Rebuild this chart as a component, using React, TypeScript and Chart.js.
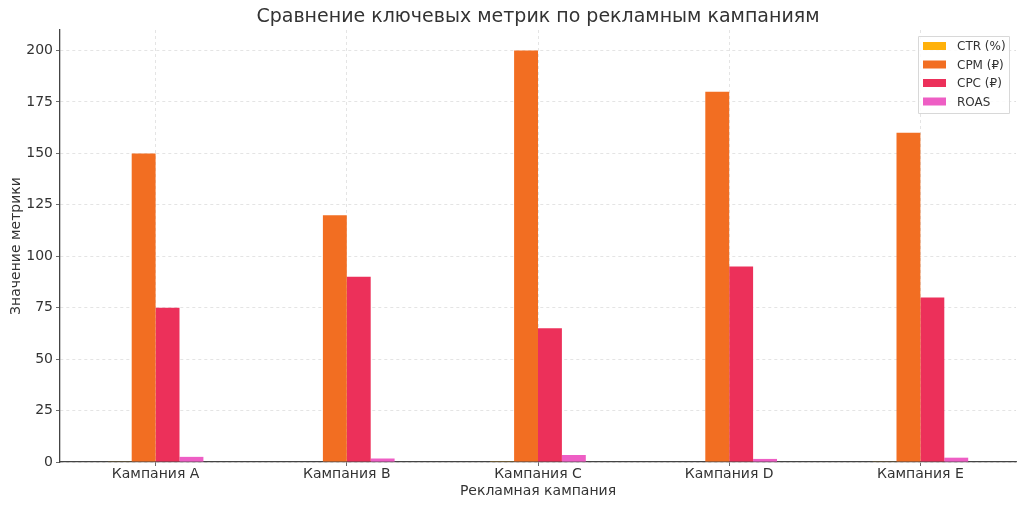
import React, { useEffect, useRef } from 'react';
import { Chart, registerables } from 'chart.js';

Chart.register(...registerables);

const campaigns = ['Кампания A', 'Кампания B', 'Кампания C', 'Кампания D', 'Кампания E'];
const ctrValues = [0.25, 0.2, 0.3, 0.2, 0.25];
const cpmValues = [150, 120, 200, 180, 160];
const cpcValues = [75, 90, 65, 95, 80];
const roasValues = [2.5, 1.7, 3.4, 1.5, 2.1];
const yTicks = [0, 25, 50, 75, 100, 125, 150, 175, 200];

const seriesLabels = ['CTR (%)', 'CPM (₽)', 'CPC (₽)', 'ROAS'];
const seriesColors = ['#FFB10A', '#F26E22', '#EC305A', '#EE5EC4'];

const FONT = '"DejaVu Sans", sans-serif';
const TEXT = '#333333';

// title + legend drawn by hand, matplotlib style
const decorations = {
  id: 'decorations',
  afterDraw(chart: any) {
    const { ctx, chartArea } = chart;
    ctx.save();
    ctx.fillStyle = TEXT;
    ctx.font = `19px ${FONT}`;
    ctx.textAlign = 'center';
    ctx.textBaseline = 'middle';
    ctx.fillText('Сравнение ключевых метрик по рекламным кампаниям', (chartArea.left + chartArea.right) / 2, 17);

    const bx = 918, by = 36, bw = 91, bh = 77;
    ctx.fillStyle = 'rgba(255,255,255,0.85)';
    ctx.strokeStyle = '#d8d8d8';
    ctx.lineWidth = 1;
    ctx.beginPath();
    ctx.rect(bx + 0.5, by + 0.5, bw, bh);
    ctx.fill();
    ctx.stroke();
    ctx.font = `12px ${FONT}`;
    ctx.textAlign = 'left';
    chart.data.datasets.forEach((ds: any, i: number) => {
      const y = by + 10 + i * 18.5;
      ctx.fillStyle = ds.backgroundColor;
      ctx.fillRect(bx + 5, y - 4, 23, 8);
      ctx.fillStyle = TEXT;
      ctx.fillText(ds.label, bx + 39, y + 1);
    });
    ctx.restore();
  },
};

export default function App() {
  const canvasRef = useRef<HTMLCanvasElement>(null);

  useEffect(() => {
    if (!canvasRef.current) return;
    const values = [ctrValues, cpmValues, cpcValues, roasValues];
    const chart = new Chart(canvasRef.current, {
      type: 'bar',
      data: {
        labels: campaigns,
        datasets: seriesLabels.map((label, i) => ({
          label,
          data: values[i],
          backgroundColor: seriesColors[i],
          borderWidth: 0,
          barPercentage: 1,
          categoryPercentage: 0.5,
        })),
      },
      options: {
        animation: false,
        responsive: false,
        devicePixelRatio: 1,
        layout: { padding: { top: 30, right: 8, left: 0, bottom: 0 } },
        plugins: {
          legend: { display: false },
          title: { display: false },
          tooltip: { enabled: false },
        },
        scales: {
          x: {
            afterFit: (scale: any) => { scale.height = 46; },
            grid: {
              offset: false,
              color: '#dddddd',
              lineWidth: 0.8,
              tickLength: 4,
              tickColor: '#444444',
              tickBorderDash: [],
            },
            border: { color: '#444444', width: 1.3, dash: [3, 3] },
            ticks: { color: TEXT, font: { family: FONT, size: 14 }, padding: 0, maxRotation: 0 },
            title: {
              display: true,
              text: 'Рекламная кампания',
              color: TEXT,
              font: { family: FONT, size: 14 },
              padding: { top: 0, bottom: 8 },
            },
          },
          y: {
            min: 0,
            max: 210,
            afterFit: (scale: any) => { scale.width = 60; },
            afterBuildTicks: (scale: any) => { scale.ticks = yTicks.map((v) => ({ value: v })); },
            grid: {
              color: '#dddddd',
              lineWidth: 0.8,
              tickLength: 4,
              tickColor: '#444444',
              tickBorderDash: [],
            },
            border: { color: '#444444', width: 1.3, dash: [3, 3] },
            ticks: { color: TEXT, font: { family: FONT, size: 14 }, padding: 3 },
            title: {
              display: true,
              text: 'Значение метрики',
              color: TEXT,
              font: { family: FONT, size: 14 },
              padding: { top: 8, bottom: 0 },
            },
          },
        },
      },
      plugins: [decorations],
    });
    return () => chart.destroy();
  }, []);

  return (
    <div style={{ position: 'fixed', left: 0, top: 0, width: 1024, height: 508, background: '#fff' }}>
      <canvas ref={canvasRef} width={1024} height={508} />
    </div>
  );
}
